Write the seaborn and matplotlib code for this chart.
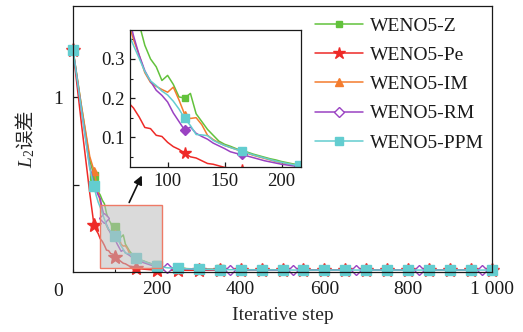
import matplotlib
matplotlib.use("Agg")
import matplotlib.pyplot as plt
from matplotlib.patches import Rectangle, FancyArrowPatch
from matplotlib.lines import Line2D
from matplotlib.ticker import FixedLocator, MultipleLocator
import seaborn as sns

# Iteration numbers at which the L2 error was recorded
steps = [0, 20, 40, 50, 55, 60,
         65, 70, 75, 80, 85, 90, 95, 100, 105, 110, 115, 120, 125, 130, 135,
         140, 145, 150, 155, 160, 165, 170, 175, 180, 185, 190, 195, 200, 205,
         210, 215,
         225, 250, 275, 300, 325, 350, 375, 400, 425, 450, 475, 500, 525, 550,
         575, 600, 625, 650, 675, 700, 725, 750, 775, 800, 825, 850, 875, 900,
         925, 950, 975, 1000]

weno_z = [1.27, 0.95, 0.64, 0.55, 0.50, 0.46,
          0.44, 0.41, 0.39, 0.335, 0.30, 0.28, 0.245, 0.258, 0.235, 0.203, 0.20,
          0.212, 0.16, 0.14, 0.12, 0.105, 0.09, 0.082, 0.077, 0.071, 0.066,
          0.062, 0.057, 0.053, 0.049, 0.045, 0.042, 0.038, 0.035, 0.032, 0.030,
          0.026, 0.022, 0.019, 0.017, 0.016, 0.015, 0.014, 0.014, 0.013, 0.013,
          0.013, 0.012, 0.012, 0.012, 0.012, 0.012, 0.011, 0.011, 0.011, 0.011,
          0.011, 0.011, 0.011, 0.011, 0.011, 0.011, 0.011, 0.011, 0.011, 0.011,
          0.011, 0.011]

weno_pe = [1.27, 0.85, 0.45, 0.27, 0.24, 0.22,
           0.19, 0.175, 0.152, 0.125, 0.122, 0.105, 0.102, 0.087, 0.076, 0.069,
           0.059, 0.050, 0.047, 0.040, 0.033, 0.031, 0.027, 0.023, 0.021, 0.019,
           0.017, 0.016, 0.015, 0.014, 0.013, 0.013, 0.012, 0.012, 0.011, 0.011,
           0.011,
           0.010, 0.010, 0.010, 0.010, 0.010, 0.010, 0.010, 0.010, 0.010, 0.010,
           0.010, 0.010, 0.010, 0.010, 0.010, 0.010, 0.010, 0.010, 0.010, 0.010,
           0.010, 0.010, 0.010, 0.010, 0.010, 0.010, 0.010, 0.010, 0.010, 0.010,
           0.010, 0.010]

weno_im = [1.27, 0.95, 0.66, 0.58, 0.52, 0.46,
           0.40, 0.35, 0.31, 0.265, 0.24, 0.23, 0.222, 0.215, 0.228, 0.195, 0.158,
           0.148, 0.15, 0.132, 0.105, 0.094, 0.086, 0.079, 0.074, 0.069, 0.064,
           0.059, 0.054, 0.050, 0.046, 0.042, 0.038, 0.035, 0.032, 0.030, 0.028,
           0.024, 0.021, 0.018, 0.016, 0.015, 0.014, 0.013, 0.013, 0.012, 0.012,
           0.012, 0.012, 0.011, 0.011, 0.011, 0.011, 0.011, 0.011, 0.011, 0.011,
           0.011, 0.011, 0.011, 0.011, 0.011, 0.011, 0.011, 0.011, 0.011, 0.011,
           0.011, 0.011]

weno_rm = [1.27, 0.93, 0.60, 0.50, 0.47, 0.44,
           0.42, 0.36, 0.31, 0.27, 0.243, 0.22, 0.207, 0.19, 0.162, 0.14, 0.118,
           0.126, 0.11, 0.102, 0.095, 0.085, 0.078, 0.071, 0.063, 0.059, 0.056,
           0.052, 0.048, 0.044, 0.040, 0.037, 0.034, 0.031, 0.029, 0.027, 0.026,
           0.022, 0.019, 0.017, 0.015, 0.014, 0.013, 0.013, 0.012, 0.012, 0.012,
           0.011, 0.011, 0.011, 0.011, 0.011, 0.011, 0.011, 0.011, 0.011, 0.011,
           0.011, 0.011, 0.011, 0.011, 0.011, 0.011, 0.011, 0.011, 0.011, 0.011,
           0.011, 0.011]

weno_ppm = [1.27, 0.93, 0.59, 0.49, 0.44, 0.40,
            0.37, 0.335, 0.302, 0.268, 0.244, 0.232, 0.218, 0.208, 0.192, 0.172,
            0.148, 0.13, 0.107, 0.106, 0.104, 0.092, 0.085, 0.079, 0.074, 0.069,
            0.065, 0.060, 0.055, 0.051, 0.047, 0.043, 0.039, 0.036, 0.033, 0.030,
            0.028,
            0.024, 0.021, 0.018, 0.016, 0.015, 0.014, 0.013, 0.013, 0.012, 0.012,
            0.012, 0.012, 0.011, 0.011, 0.011, 0.011, 0.011, 0.011, 0.011, 0.011,
            0.011, 0.011, 0.011, 0.011, 0.011, 0.011, 0.011, 0.011, 0.011, 0.011,
            0.011, 0.011]

scheme_names = ["WENO5-Z", "WENO5-Pe", "WENO5-IM", "WENO5-RM", "WENO5-PPM"]
scheme_errors = [weno_z, weno_pe, weno_im, weno_rm, weno_ppm]

x_tick_values = [200, 400, 600, 800, 1000]
x_tick_labels = ["200", "400", "600", "800", "1 000"]
y_tick_values = [0.5, 1.0]
y_tick_labels = ["", "1"]
inset_x_ticks = [100, 150, 200]
inset_y_ticks = [0.1, 0.2, 0.3]

# Styling for each scheme
colors = ["#62C23C", "#EE2A27", "#F47C2E", "#9A42C2", "#63CDD0"]
markers = ["s", "*", "^", "D", "s"]
marker_sizes = [5.5, 10, 6, 5.5, 6.5]
face_colors = ["#62C23C", "#EE2A27", "#F47C2E", "white", "#63CDD0"]

every_50 = list(range(0, 1001, 50))
main_marks = [every_50, every_50, every_50,
              [0, 75, 225, 375, 525, 675, 825, 975], every_50]
inset_marks = [115, 165, 215]

sns.set_style("ticks")
plt.rcParams.update({
    "font.family": ["Liberation Serif", "Noto Sans CJK SC"],
    "font.size": 14,
    "mathtext.fontset": "custom",
    "mathtext.rm": "Liberation Serif",
    "mathtext.it": "Liberation Serif:italic",
    "mathtext.sf": "Noto Sans CJK SC",
    "axes.linewidth": 0.9,
    "axes.edgecolor": "#1a1a1a",
    "xtick.direction": "in",
    "ytick.direction": "in",
    "xtick.color": "#1a1a1a",
    "ytick.color": "#1a1a1a",
    "text.color": "#1a1a1a",
})

W, H = 523, 332
fig = plt.figure(figsize=(W / 100, H / 100), dpi=100)

# ---- main axes ----
ax = fig.add_axes([73 / W, 1 - 272 / H, 419 / W, 266 / H])
for name, err, c, m, ms, fc, marks in zip(scheme_names, scheme_errors, colors,
                                          markers, marker_sizes, face_colors,
                                          main_marks):
    idx = [steps.index(v) for v in marks]
    sns.lineplot(x=steps, y=err, ax=ax, color=c, lw=1.1, marker=m, ms=ms,
                 mfc=fc, mec=c, mew=1.0, markevery=idx, errorbar=None,
                 clip_on=False, legend=False, zorder=2)

ax.set_xlim(0, 1000)
ax.set_ylim(0, 1.52)
ax.xaxis.set_major_locator(FixedLocator(x_tick_values))
ax.set_xticklabels(x_tick_labels)
ax.xaxis.set_minor_locator(MultipleLocator(100))
ax.yaxis.set_major_locator(FixedLocator(y_tick_values))
ax.set_yticklabels(y_tick_labels)
ax.tick_params(axis="both", which="major", length=4, width=0.9,
               labelsize=14, top=False, right=False)
ax.tick_params(axis="x", which="major", pad=6.5)
ax.tick_params(axis="y", which="major", pad=7)
ax.tick_params(axis="x", which="minor", length=2.5, width=0.8, top=False)
for s in ax.spines.values():
    s.set_visible(True)
    s.set_linewidth(0.9)

# shared origin label
ax.text(-0.036, -0.075, "0", transform=ax.transAxes, ha="center",
        va="center", fontsize=14)

ax.set_xlabel("Iterative step", fontsize=14)
ax.xaxis.set_label_coords(0.5, -0.13)
ax.set_ylabel(r"$L_2\mathsf{误差}$", fontsize=14)
ax.yaxis.set_label_coords(-0.087, 0.5)

# zoom window
ax.add_patch(Rectangle((64, 0.023), 148, 0.36,
                       facecolor=(0.74, 0.74, 0.74, 0.55),
                       edgecolor="#EE7A66", lw=1.0, zorder=3, clip_on=False))

# legend
handles = [Line2D([], [], color=c, lw=1.1, marker=m, ms=ms * 0.9, mfc=fc,
                  mec=c, mew=1.0)
           for c, m, ms, fc in zip(colors, markers, marker_sizes, face_colors)]
ax.legend(handles, scheme_names, loc="upper left",
          bbox_to_anchor=(315 / W, 1 - 17 / H), bbox_transform=fig.transFigure,
          frameon=False, borderpad=0, borderaxespad=0, handlelength=2.45,
          handletextpad=0.36, labelspacing=0.6, fontsize=14)

# arrow from the zoom window to the inset
fig.add_artist(FancyArrowPatch(
    (128 / W, 1 - 205 / H), (143 / W, 1 - 173 / H),
    transform=fig.transFigure, arrowstyle="-|>", mutation_scale=13,
    color="#111111", lw=1.2))

# ---- inset ----
axin = fig.add_axes([130 / W, 1 - 167 / H, 171 / W, 137 / H])
axin.set_facecolor("white")
for name, err, c, m, ms, fc in zip(scheme_names, scheme_errors, colors,
                                   markers, marker_sizes, face_colors):
    idx = [steps.index(v) for v in inset_marks]
    sns.lineplot(x=steps, y=err, ax=axin, color=c, lw=1.1, marker=m,
                 ms=ms * 0.85, mfc=c, mec=c, mew=1.0, markevery=idx,
                 errorbar=None, legend=False)
axin.set_xlim(67, 217)
axin.set_ylim(0.024, 0.374)
axin.xaxis.set_major_locator(FixedLocator(inset_x_ticks))
axin.yaxis.set_major_locator(FixedLocator(inset_y_ticks))
axin.yaxis.set_minor_locator(MultipleLocator(0.05))
axin.set_yticklabels([f"{v:.1f}" for v in inset_y_ticks])
axin.tick_params(axis="both", which="major", length=3.5, width=0.9,
                 labelsize=13.5)
axin.tick_params(axis="x", which="major", pad=4.5)
axin.tick_params(axis="y", which="major", pad=3.5)
axin.tick_params(axis="y", which="minor", length=2, width=0.8)
axin.set_xlabel("")
axin.set_ylabel("")
for s in axin.spines.values():
    s.set_visible(True)
    s.set_linewidth(0.9)

fig.savefig("out.png", dpi=100)
